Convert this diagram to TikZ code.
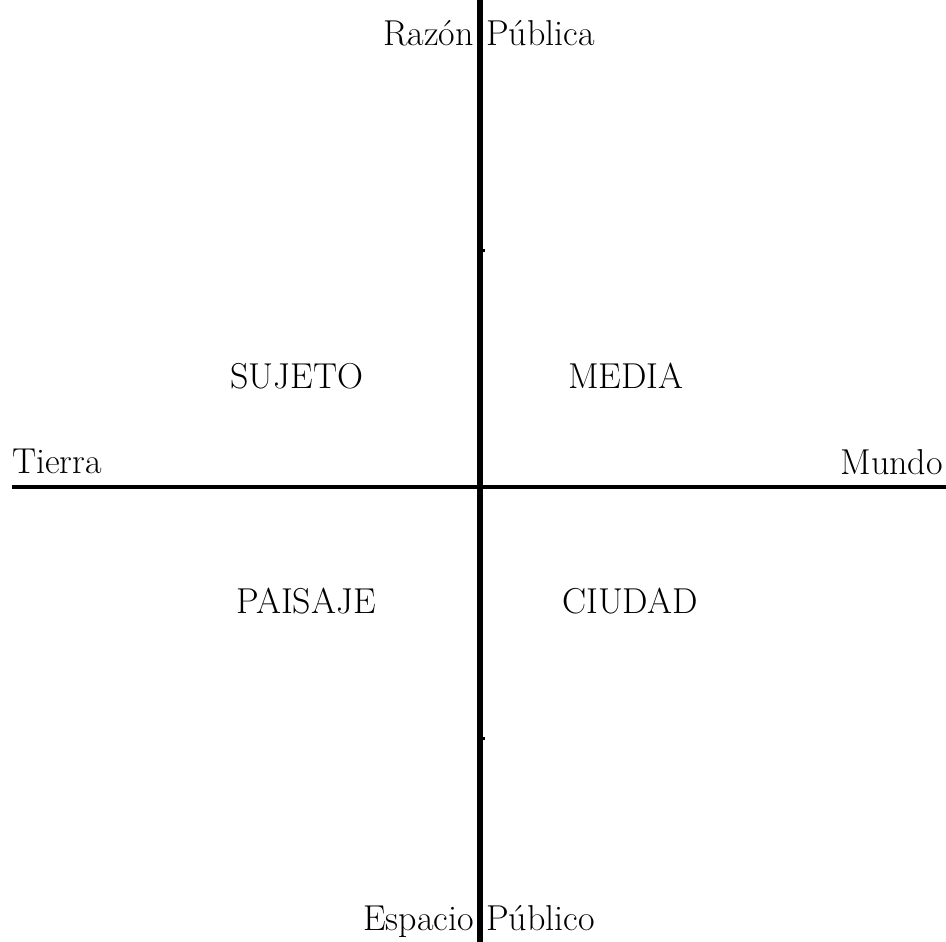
\documentclass[tikz,border=0pt]{standalone}
\usepackage{fontspec}
\setmainfont{Latin Modern Roman}
\begin{document}
\begin{tikzpicture}[x=1pt,y=-1pt,
  lbl/.style={inner sep=0pt,font=\fontsize{36}{43}\selectfont},
  axisv/.style={line width=6pt,black},
  axish/.style={line width=3.6pt,black},
  tickmark/.style={fill=black}]
\useasboundingbox (0,0) rectangle (946,942);
% axes
\coordinate (vtop) at (479.5,0);
\coordinate (vbot) at (479.5,942);
\coordinate (hleft) at (12,487);
\coordinate (hright) at (946,487);
\draw[axisv] (vtop) -- (vbot);
\draw[axish] (hleft) -- (hright);
% small ticks
\fill[tickmark] (482,249) rectangle (484.5,252);
\fill[tickmark] (482,737) rectangle (484.5,740);
% axis labels
\node[lbl,anchor=base east] (razon) at (474,46) {Razón};
\node[lbl,anchor=base west] (publica) at (486,46) {Pública};
\node[lbl,anchor=base east] (espacio) at (474,930) {Espacio};
\node[lbl,anchor=base west] (publico) at (486,930) {Público};
\node[lbl,anchor=base west] (tierra) at (12,473) {Tierra};
\node[lbl,anchor=base east] (mundo) at (943,474) {Mundo};
% quadrant labels
\node[lbl,anchor=base] (sujeto) at (297,388) {SUJETO};
\node[lbl,anchor=base] (media) at (626,388) {MEDIA};
\node[lbl,anchor=base] (paisaje) at (306,613) {PAISAJE};
\node[lbl,anchor=base] (ciudad) at (630,613) {CIUDAD};
\end{tikzpicture}
\end{document}
